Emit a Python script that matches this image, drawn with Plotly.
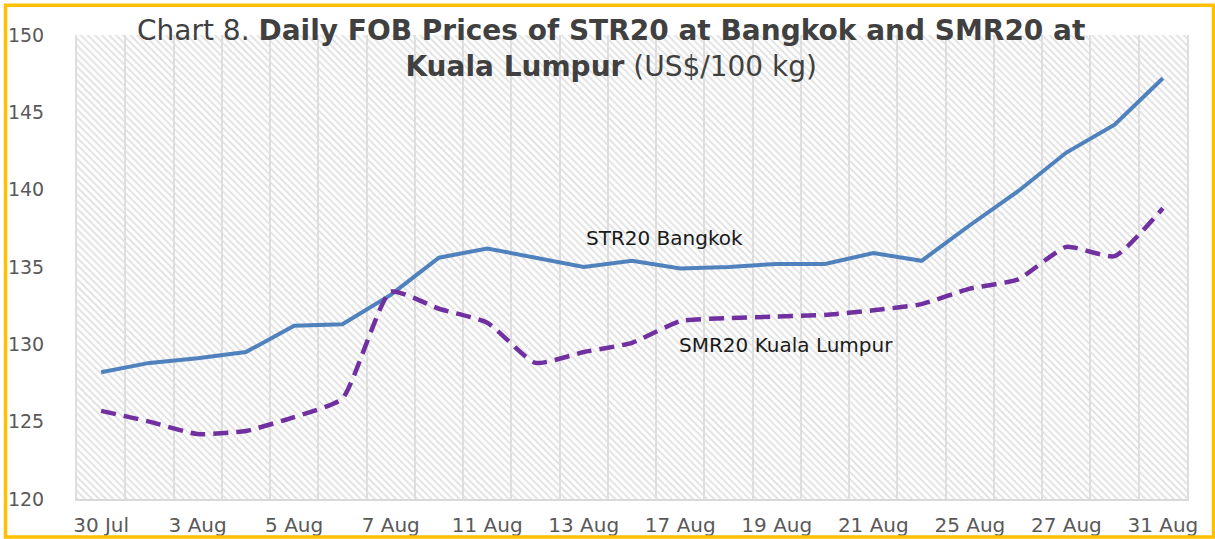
import base64
import plotly.graph_objects as go

# ---- data ----
dates = ["30 Jul", "31 Jul", "3 Aug", "4 Aug", "5 Aug", "6 Aug", "7 Aug", "10 Aug",
         "11 Aug", "12 Aug", "13 Aug", "14 Aug", "17 Aug", "18 Aug", "19 Aug", "20 Aug",
         "21 Aug", "24 Aug", "25 Aug", "26 Aug", "27 Aug", "28 Aug", "31 Aug"]
str20_bangkok = [128.2, 128.8, 129.1, 129.5, 131.2, 131.3, 133.2, 135.6, 136.2, 135.6,
                 135.0, 135.4, 134.9, 135.0, 135.2, 135.2, 135.9, 135.4, 137.7, 139.9,
                 142.4, 144.2, 147.2]
smr20_kl = [125.7, 125.0, 124.2, 124.4, 125.3, 126.5, 133.4, 132.3, 131.4, 128.8,
            129.5, 130.1, 131.5, 131.7, 131.8, 131.9, 132.2, 132.6, 133.6, 134.2,
            136.3, 135.7, 138.8]
shown_labels = ["30 Jul", "3 Aug", "5 Aug", "7 Aug", "11 Aug", "13 Aug", "17 Aug",
                "19 Aug", "21 Aug", "25 Aug", "27 Aug", "31 Aug"]
y_ticks = [120, 125, 130, 135, 140, 145, 150]

# ---- geometry ----
W, H = 1215, 539
ML, MR, MT, MB = 77, 28, 35, 40
PW, PH = W - ML - MR, H - MT - MB


def px_x(p):
    return (p - ML) / PW


def px_y(p):
    return (H - MB - p) / PH


# hatch background as svg pattern
svg = (
    f"<svg xmlns='http://www.w3.org/2000/svg' width='{PW}' height='{PH}'>"
    "<defs><pattern id='h' width='5' height='5' patternUnits='userSpaceOnUse' "
    "patternTransform='rotate(45)'>"
    "<rect width='5' height='5' fill='white'/>"
    "<line x1='0' y1='2.5' x2='5' y2='2.5' stroke='#dcdcdc' stroke-width='1.6'/>"
    "</pattern></defs>"
    f"<rect width='{PW}' height='{PH}' fill='url(#h)'/></svg>"
)
svg_uri = "data:image/svg+xml;base64," + base64.b64encode(svg.encode()).decode()

fig = go.Figure()
fig.add_trace(go.Scatter(
    x=dates, y=str20_bangkok, mode="lines", name="STR20 Bangkok",
    line=dict(color="#4F81BD", width=4),
))
fig.add_trace(go.Scatter(
    x=dates, y=smr20_kl, mode="lines", name="SMR20 Kuala Lumpur",
    line=dict(color="#7030A0", width=4.5, dash="15px,8px", shape="spline", smoothing=0.5),
))

ticktext = [d if d in shown_labels else "" for d in dates]

title_text = ("Chart 8. <b>Daily FOB Prices of STR20 at Bangkok and SMR20 at</b><br>"
              "<b>Kuala Lumpur</b> (US$/100 kg)")

fig.update_layout(
    width=W, height=H,
    margin=dict(l=ML, r=MR, t=MT, b=MB, pad=0, autoexpand=False),
    paper_bgcolor="white",
    plot_bgcolor="rgba(0,0,0,0)",
    showlegend=False,
    font=dict(family="DejaVu Sans", color="#595959"),
    xaxis=dict(
        type="category", categoryorder="array", categoryarray=dates,
        range=[-0.5, len(dates) - 0.5],
        tickmode="array", tickvals=dates, ticktext=ticktext,
        tickson="boundaries", ticks="", tickangle=0, automargin=False,
        showgrid=True, gridcolor="#dedede", gridwidth=2,
        showline=True, linecolor="#d9d9d9", linewidth=2,
        tickfont=dict(size=20, color="#595959"),
        ticklabelstandoff=7,
        fixedrange=True,
    ),
    yaxis=dict(
        range=[120, 150], tickmode="array", tickvals=y_ticks,
        showgrid=False, zeroline=False, ticks="",
        showline=True, linecolor="#dedede", linewidth=2, mirror=True,
        automargin=False,
        tickfont=dict(size=19, color="#595959"),
        ticklabelstandoff=27,
        fixedrange=True,
    ),
    images=[dict(
        source=svg_uri, xref="paper", yref="paper", x=0, y=1, sizex=1, sizey=1,
        xanchor="left", yanchor="top", sizing="stretch", layer="below",
    )],
    shapes=[dict(
        type="rect", xref="paper", yref="paper",
        x0=px_x(5.5), x1=px_x(1213.5), y0=px_y(537), y1=px_y(5.3),
        line=dict(color="#FFC000", width=3.5), fillcolor="rgba(0,0,0,0)",
        layer="above",
    )],
    annotations=[
        dict(text=title_text, x=px_x(611), y=px_y(12), xref="paper", yref="paper",
             xanchor="center", yanchor="top", showarrow=False, align="center",
             font=dict(family="DejaVu Sans", size=28, color="#404040")),
        dict(text="STR20 Bangkok", x=11.68, y=136.88, xref="x", yref="y",
             showarrow=False, font=dict(size=20, color="#1a1a1a", family="DejaVu Sans")),
        dict(text="SMR20 Kuala Lumpur", x=14.19, y=129.95, xref="x", yref="y",
             showarrow=False, font=dict(size=20, color="#1a1a1a", family="DejaVu Sans")),
    ],
)

fig.write_html("out.html", config={"displayModeBar": False},
               post_script="document.body.style.margin='0';")
